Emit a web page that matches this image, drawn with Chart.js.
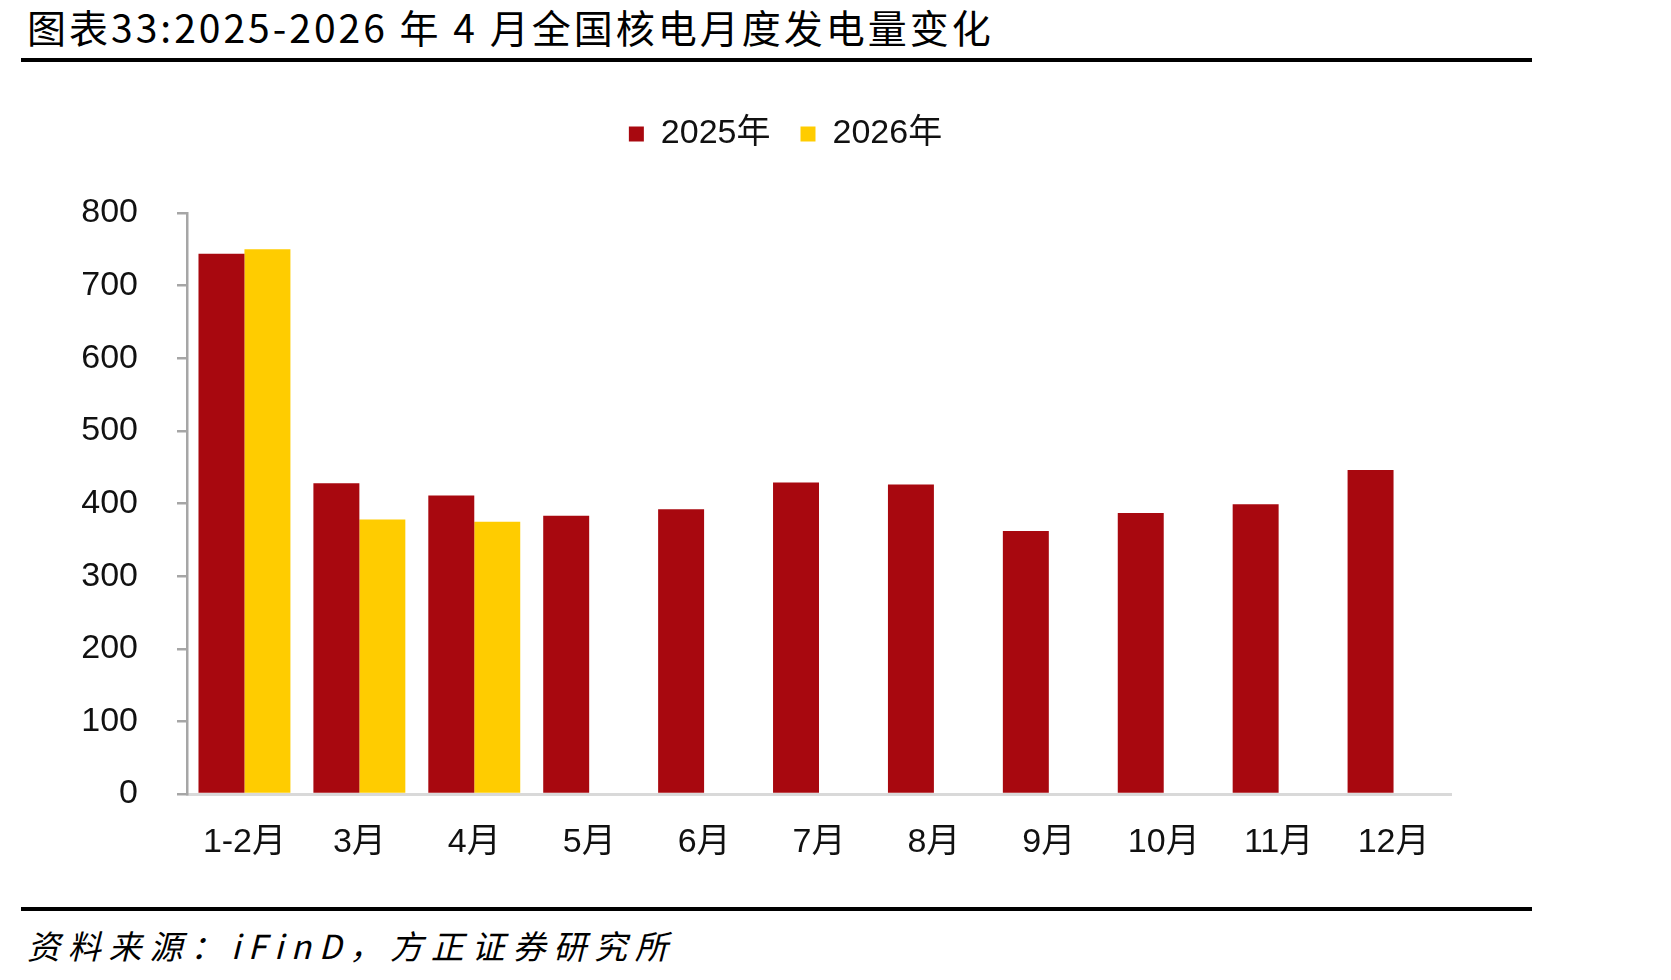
<!DOCTYPE html>
<html>
<head>
<meta charset="utf-8">
<script src="https://cdn.jsdelivr.net/npm/chart.js@4"></script>
<style>
  body { margin: 0; background: #fff; width: 1671px; height: 980px; position: relative; overflow: hidden; }
  #title { position: absolute; left: 27px; top: -2px; font: 39px "Noto Sans CJK SC", sans-serif; letter-spacing: 3px; color: #000; white-space: nowrap; }
  .rule { position: absolute; left: 21px; width: 1511px; height: 4px; background: #000; }
  #source { position: absolute; left: 27px; top: 921px; font: italic 33px "Noto Sans CJK SC", sans-serif; letter-spacing: 7.8px; color: #000; white-space: nowrap; }
  #wrap { position: absolute; left: 0; top: 70px; }
</style>
</head>
<body>
<div id="title">图表33:2025-2026 年 4 月全国核电月度发电量变化</div>
<div class="rule" style="top:58px"></div>
<div id="wrap"><canvas id="myChart" width="1671" height="830"></canvas></div>
<div class="rule" style="top:907px"></div>
<div id="source">资料来源：iFinD，方正证券研究所</div>
<script>
const months = ['1-2月', '3月', '4月', '5月', '6月', '7月', '8月', '9月', '10月', '11月', '12月'];
const gen2025 = [744, 428, 411, 383, 392, 429, 426, 362, 387, 399, 446];
const gen2026 = [750, 378, 375, null, null, null, null, null, null, null, null];
const yTicks = [0, 100, 200, 300, 400, 500, 600, 700, 800];

const font = '"Liberation Sans", "Noto Sans CJK SC", sans-serif';

// extra room under the legend, and nudge it right to sit over the plot
const legendTweak = {
  id: 'legendTweak',
  beforeInit(chart) {
    const fit = chart.legend.fit;
    chart.legend.fit = function () {
      fit.bind(chart.legend)();
      this.height += 52;
    };
  },
  afterLayout(chart) {
    chart.legend.left += 60;
    chart.legend.right += 60;
  }
};

const ctx = document.getElementById('myChart');

new Chart(ctx, {
  type: 'bar',
  data: {
    labels: months,
    datasets: [{
      label: '2025年',
      data: gen2025,
      backgroundColor: '#A8080F',
      categoryPercentage: 0.8,
      barPercentage: 1.0
    }, {
      label: '2026年',
      data: gen2026,
      backgroundColor: '#FFCC00',
      categoryPercentage: 0.8,
      barPercentage: 1.0
    }]
  },
  options: {
    responsive: false,
    animation: false,
    layout: { padding: { top: 17, left: 0, right: 220, bottom: 0 } },
    plugins: {
      tooltip: { enabled: false },
      legend: {
        labels: {
          boxWidth: 15,
          boxHeight: 15,
          padding: 30,
          color: '#111',
          font: { family: font, size: 34 }
        }
      }
    },
    scales: {
      x: {
        grid: { display: false, drawTicks: false },
        border: { display: true, color: '#D9D9D9', width: 3 },
        ticks: { color: '#111', padding: 28, font: { family: font, size: 34 } },
        afterFit(scale) { scale.height = 106; }
      },
      y: {
        min: 0,
        max: 800,
        afterBuildTicks(scale) { scale.ticks = yTicks.map(v => ({ value: v })); },
        grid: { drawOnChartArea: false, drawTicks: true, tickLength: 10, color: '#A6A6A6', lineWidth: 2.5 },
        border: { display: true, color: '#A6A6A6', width: 2.5 },
        ticks: { color: '#111', padding: 39, font: { family: font, size: 34 } },
        afterFit(scale) { scale.width = 187; }
      }
    }
  },
  plugins: [legendTweak]
});
</script>
</body>
</html>
